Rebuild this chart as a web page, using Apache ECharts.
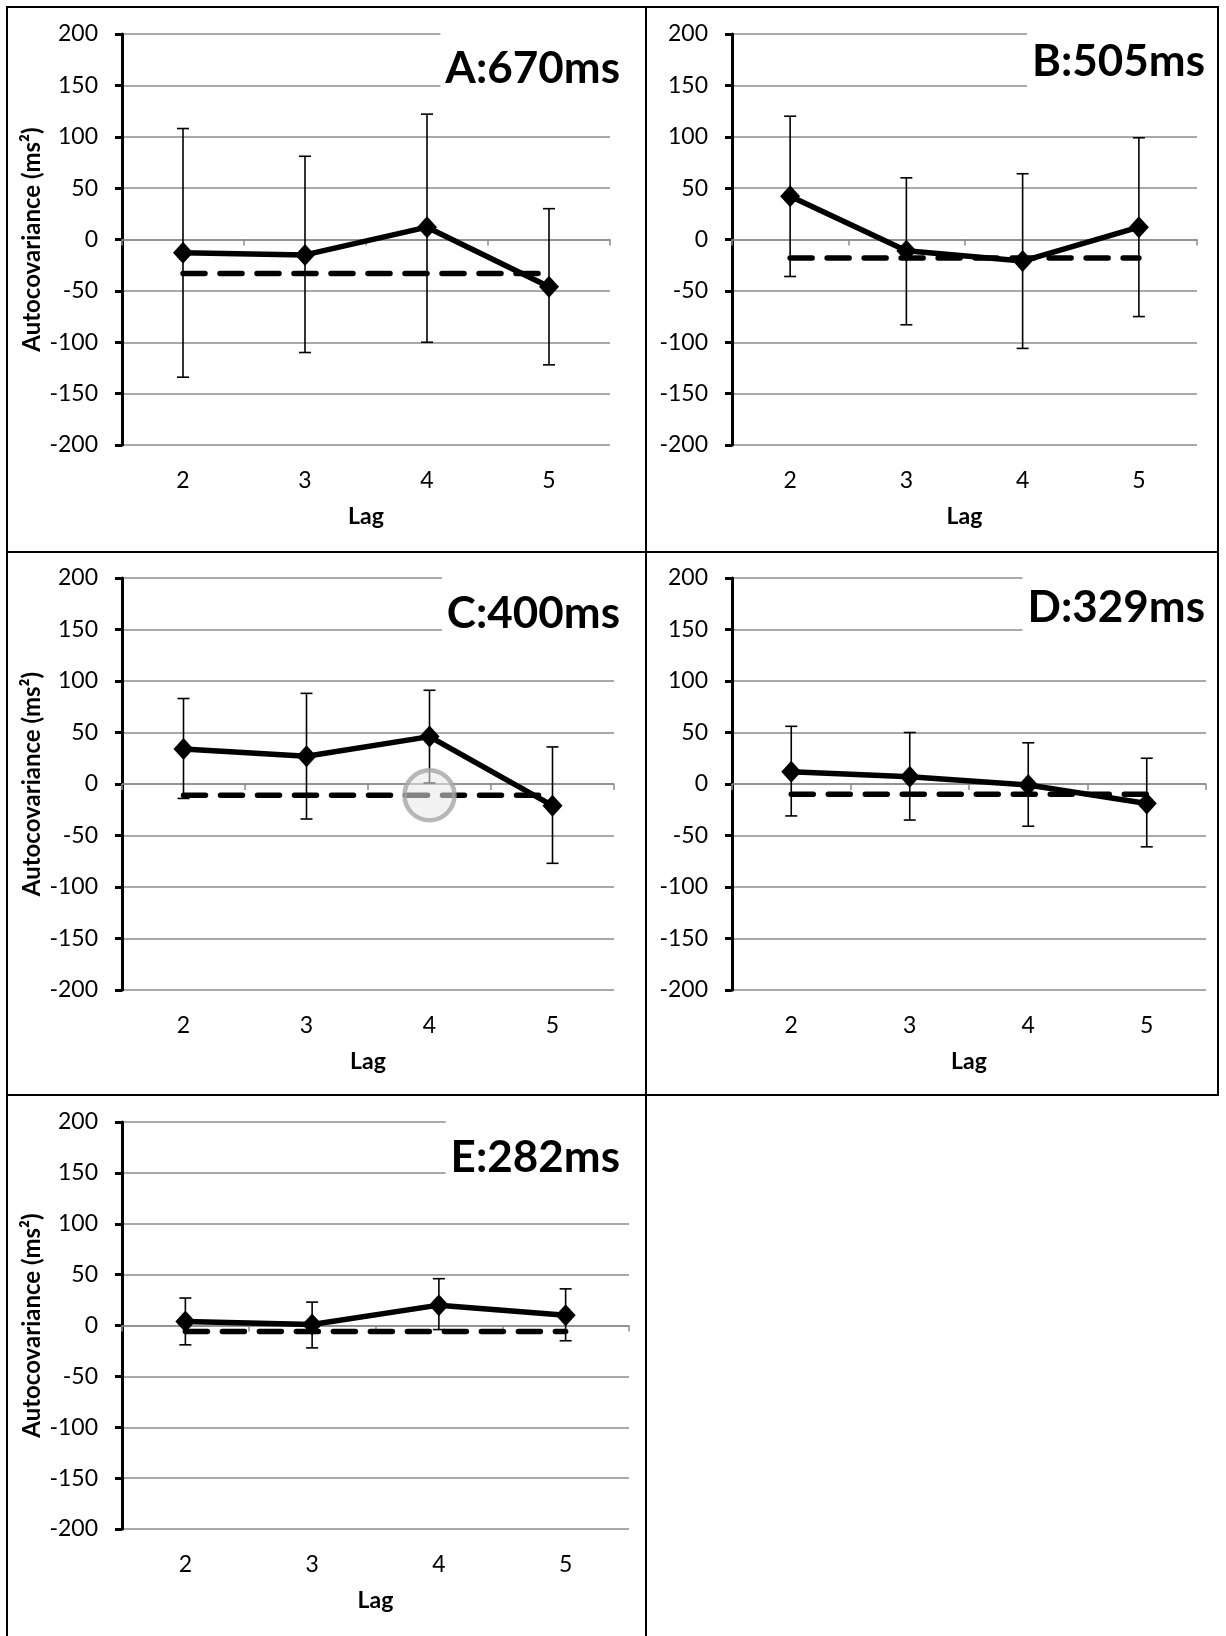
<!DOCTYPE html>
<html>
<head>
<meta charset="utf-8">
<script src="https://cdn.jsdelivr.net/npm/echarts@6/dist/echarts.min.js"></script>
<style>
html, body { margin: 0; padding: 0; background: #fff; }
#chart { width: 1226px; height: 1636px; }
</style>
</head>
<body>
<div id="chart"></div>
<script>
// lag categories shared by all panels
const lags = ['2', '3', '4', '5'];
const titles = ['A:670ms', 'B:505ms', 'C:400ms', 'D:329ms', 'E:282ms'];

// mean autocovariance, error bar ends (hi / lo) and the dashed reference level
const meanA = [-13, -15, 12, -46];
const hiA = [108, 81, 122, 30];
const loA = [-134, -110, -100, -122];
const refA = -33;

const meanB = [42, -11, -21, 12];
const hiB = [120, 60, 64, 99];
const loB = [-36, -83, -106, -75];
const refB = -18;

const meanC = [34, 27, 46, -21];
const hiC = [83, 88, 91, 36];
const loC = [-14, -34, 1, -77];
const refC = -11;
const circledLagC = '4';

const meanD = [12, 7, -1, -19];
const hiD = [56, 50, 40, 25];
const loD = [-31, -35, -41, -61];
const refD = -10;

const meanE = [4, 1, 20, 10];
const hiE = [27, 23, 46, 36];
const loE = [-19, -22, -4, -15];
const refE = -6;

const panelData = [
    { mean: meanA, hi: hiA, lo: loA, ref: refA },
    { mean: meanB, hi: hiB, lo: loB, ref: refB },
    { mean: meanC, hi: hiC, lo: loC, ref: refC },
    { mean: meanD, hi: hiD, lo: loD, ref: refD },
    { mean: meanE, hi: hiE, lo: loE, ref: refE }
];

// pixel layout of each panel (grid box + title box)
const panels = [
    { left: 122, top: 34, width: 488, height: 411, titleRight: 604, titlePadR: 2, titleTop: 30, yName: true },
    { left: 732, top: 34, width: 465, height: 411, titleRight: 19, titlePadR: 2, titleTop: 23, yName: false },
    { left: 122, top: 578, width: 492, height: 412, titleRight: 604, titlePadR: 2, titleTop: 575, yName: true },
    { left: 732, top: 578, width: 474, height: 412, titleRight: 17, titlePadR: 4, titleTop: 569, yName: false },
    { left: 122, top: 1122, width: 507, height: 407, titleRight: 594, titlePadR: 12, titleTop: 1119, yName: true }
];

const GRID_GREY = '#8c8c8c';
const FONT = 'Lato';

function renderErrorBar(params, api) {
    const x = api.value(0);
    const top = api.coord([x, api.value(2)]);
    const bot = api.coord([x, api.value(1)]);
    const cap = 6;
    const style = { stroke: '#000', lineWidth: 1.6 };
    return {
        type: 'group',
        children: [
            { type: 'line', shape: { x1: top[0], y1: top[1], x2: bot[0], y2: bot[1] }, style: style },
            { type: 'line', shape: { x1: top[0] - cap, y1: top[1], x2: top[0] + cap, y2: top[1] }, style: style },
            { type: 'line', shape: { x1: bot[0] - cap, y1: bot[1], x2: bot[0] + cap, y2: bot[1] }, style: style }
        ]
    };
}

const grid = [];
const xAxis = [];
const yAxis = [];
const series = [];

panels.forEach((p, i) => {
    grid.push({ left: p.left, top: p.top, width: p.width, height: p.height });

    // bottom axis: only the lag labels and the "Lag" name
    xAxis.push({
        type: 'category', gridIndex: i, data: lags, position: 'bottom',
        axisLine: { show: false, onZero: false },
        axisTick: { show: false },
        axisLabel: { fontSize: 23, color: '#000', margin: 24, fontFamily: FONT },
        name: 'Lag', nameLocation: 'middle', nameGap: 60,
        nameTextStyle: { fontSize: 23, fontWeight: 'bold', color: '#000', fontFamily: FONT }
    });
    // axis line sitting on y = 0 with the small grey boundary ticks
    xAxis.push({
        type: 'category', gridIndex: i, data: lags, position: 'bottom',
        axisLine: { show: true, onZero: true, lineStyle: { color: GRID_GREY, width: 1.5 } },
        axisTick: { show: true, length: 6, lineStyle: { color: GRID_GREY, width: 1.5 } },
        axisLabel: { show: false }
    });

    yAxis.push({
        type: 'value', gridIndex: i, min: -200, max: 200, interval: 50,
        axisLine: { show: true, onZero: false, lineStyle: { color: '#000', width: 3 } },
        axisTick: { show: true, length: 7, lineStyle: { color: '#000', width: 3 } },
        axisLabel: { fontSize: 23, color: '#000', margin: 24, fontFamily: FONT },
        splitLine: { show: true, lineStyle: { color: GRID_GREY, width: 1.5 } },
        name: p.yName ? 'Autocovariance (ms²)' : '',
        nameLocation: 'middle', nameGap: 78,
        nameTextStyle: { fontSize: 24, fontWeight: 'bold', color: '#000', fontFamily: FONT }
    });

    const d = panelData[i];
    series.push({
        type: 'custom', xAxisIndex: 2 * i, yAxisIndex: i,
        renderItem: renderErrorBar,
        encode: { x: 0, y: [1, 2] },
        data: lags.map((l, k) => [k, d.lo[k], d.hi[k]]),
        z: 3
    });
    series.push({
        type: 'line', xAxisIndex: 2 * i, yAxisIndex: i,
        data: lags.map(() => d.ref),
        symbol: 'none',
        lineStyle: { color: '#000', width: 5.5, type: [22, 15], cap: 'round' },
        z: 4
    });
    series.push({
        type: 'line', xAxisIndex: 2 * i, yAxisIndex: i,
        data: d.mean,
        symbol: 'diamond', symbolSize: [20, 22],
        itemStyle: { color: '#000' },
        lineStyle: { color: '#000', width: 5.5 },
        z: 5
    });
});

// grey highlight circle in panel C
series.push({
    type: 'scatter', xAxisIndex: 4, yAxisIndex: 2,
    data: [[circledLagC, refC]],
    symbol: 'circle', symbolSize: 50,
    itemStyle: { color: 'rgba(232,232,232,0.7)', borderColor: '#a6a6a6', borderWidth: 4.5 },
    z: 10
});

const borderStyle = { fill: 'none', stroke: '#000', lineWidth: 2 };

const option = {
    animation: false,
    textStyle: { fontFamily: FONT },
    title: panels.map((p, i) => ({
        text: titles[i],
        right: p.titleRight,
        top: p.titleTop,
        padding: [17, p.titlePadR, 6, 5],
        backgroundColor: '#fff',
        textStyle: { fontSize: 44, fontWeight: 'bold', color: '#000', fontFamily: FONT }
    })),
    grid: grid,
    xAxis: xAxis,
    yAxis: yAxis,
    series: series,
    graphic: [
        { type: 'rect', silent: true, shape: { x: 7, y: 7, width: 639, height: 545 }, style: borderStyle },
        { type: 'rect', silent: true, shape: { x: 646, y: 7, width: 572, height: 545 }, style: borderStyle },
        { type: 'rect', silent: true, shape: { x: 7, y: 552, width: 639, height: 543 }, style: borderStyle },
        { type: 'rect', silent: true, shape: { x: 646, y: 552, width: 572, height: 543 }, style: borderStyle },
        { type: 'polyline', silent: true, shape: { points: [[7, 1636], [7, 1095], [646, 1095], [646, 1636]] }, style: borderStyle }
    ]
};

const myChart = echarts.init(document.getElementById('chart'));
myChart.setOption(option);
</script>
</body>
</html>
